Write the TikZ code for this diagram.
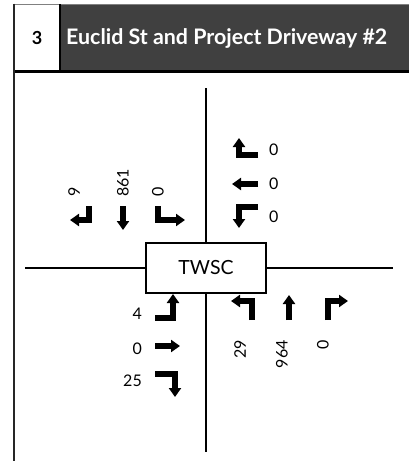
\documentclass[tikz,border=0pt]{standalone}
\usepackage{fontspec}
\setmainfont{Lato}
\usetikzlibrary{arrows.meta}
\definecolor{hdr}{HTML}{404040}
\begin{document}
\begin{tikzpicture}[x=1pt,y=-1pt,
  mv/.style={line width=5.5pt, line join=miter, line cap=butt, -{Triangle[width=12pt,length=9pt]}},
  road/.style={line width=1.8pt},
  num/.style={font=\fontsize{16}{16}\selectfont, inner sep=0pt},
  ctlbox/.style={draw, line width=1.3pt, minimum width=120pt, minimum height=50pt, inner sep=0pt, font=\fontsize{19.5}{19.5}\selectfont}
]
\useasboundingbox (0,0) rectangle (408,461);
% header
\fill[hdr] (60,4) rectangle (410,71);
\draw[line width=1pt, gray] (14,4) -- (410,4);
\draw[line width=2pt] (60,4) -- (60,71);
\draw[line width=3pt] (14,71.5) -- (410,71.5);
\draw[line width=2pt, black!85] (14,3.5) -- (14,462);
\node[font=\bfseries\fontsize{18}{18}\selectfont, inner sep=0pt] (num) at (37,38) {3};
\node[text=white, anchor=west, inner sep=0pt] (title) at (66,38) {\resizebox{321pt}{!}{\bfseries Euclid St and Project Driveway \#2}};
% roads
\node[ctlbox] (ctl) at (206,268) {TWSC};
\coordinate (n) at (206,88);
\coordinate (s) at (206,452);
\coordinate (w) at (25,268);
\coordinate (e) at (393,268);
\draw[road] (n) -- (ctl.north);
\draw[road] (ctl.south) -- (s);
\draw[road] (w) -- (ctl.west);
\draw[road] (ctl.east) -- (e);
% SB
\draw[mv] (89,206) |- (70,220);
\draw[mv] (123,206) -- (123,230);
\draw[mv] (158,206) |- (185,220);
\node[num, rotate=90, anchor=west] (sbr) at (74,197) {9};
\node[num, rotate=90, anchor=west] (sbt) at (123,197) {861};
\node[num, rotate=90, anchor=west] (sbl) at (158,197) {0};
% WB
\draw[mv] (258,155) -| (239,138);
\draw[mv] (258,184) -- (232,184);
\draw[mv] (258,207) -| (239,228);
\node[num, anchor=west] (wbr) at (269,150) {0};
\node[num, anchor=west] (wbt) at (269,183.5) {0};
\node[num, anchor=west] (wbl) at (269,217) {0};
% EB
\draw[mv] (155,318) -| (173,294);
\draw[mv] (155,346) -- (180,346);
\draw[mv] (155,374) -| (175,397);
\node[num, anchor=east] (ebl) at (142,314) {4};
\node[num, anchor=east] (ebt) at (142,348.5) {0};
\node[num, anchor=east] (ebr) at (142,381) {25};
% NB
\draw[mv] (252,320) |- (231,301);
\draw[mv] (289,320) -- (289,295);
\draw[mv] (328,320) |- (348,301);
\node[num, rotate=90, anchor=east] (nbl) at (240,340) {29};
\node[num, rotate=90, anchor=east] (nbt) at (282,340) {964};
\node[num, rotate=90, anchor=east] (nbr) at (323,340) {0};
\end{tikzpicture}
\end{document}
